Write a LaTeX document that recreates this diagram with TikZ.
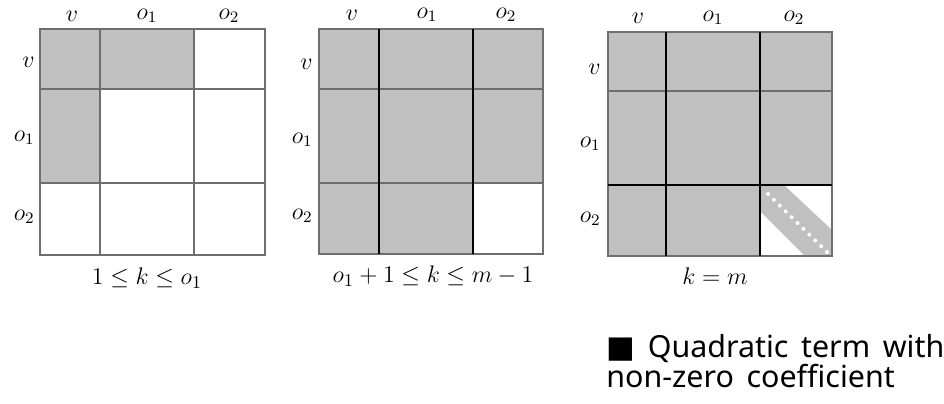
\documentclass[tikz,border=0pt]{standalone}
\usepackage{fontspec}
\newfontfamily\legendfont[WordSpace=1.6]{Noto Sans}
\newfontfamily\symbfont{DejaVu Sans}
\definecolor{cellgray}{HTML}{C0C0C0}
\definecolor{gridgray}{HTML}{6E6E6E}

\begin{document}
\begin{tikzpicture}[
    x=0.5pt, y=-0.5pt,
    cell/.style={fill=cellgray},
    grid/.style={draw=gridgray, line width=0.6pt},
    bold/.style={draw=black, line width=1.1pt},
    lbl/.style={font=\fontsize{12}{14}\selectfont, inner sep=1pt},
    mcaption/.style={font=\fontsize{12.5}{15}\selectfont},
]
\useasboundingbox (0,0) rectangle (944,403);

% --- 1 <= k <= o1 (left) ---
\fill[cell] (40,29) rectangle (194,89);
\fill[cell] (40,89) rectangle (100,183);
\draw[grid] (40,29) rectangle (265,255);
\draw[grid] (100,29) -- (100,255);
\draw[grid] (194,29) -- (194,255);
\draw[grid] (40,89) -- (265,89);
\draw[grid] (40,183) -- (265,183);

\node[lbl] (ca1) at (72,16) {$v$};
\node[lbl] (cb1) at (147,16) {$o_1$};
\node[lbl] (cc1) at (229,16) {$o_2$};
\node[lbl, anchor=east] (ra1) at (37,62) {$v$};
\node[lbl, anchor=east] (rb1) at (37,138) {$o_1$};
\node[lbl, anchor=east] (rc1) at (37,217) {$o_2$};
\node[mcaption] (cap1) at (147,278) {$1 \leq k \leq o_1$};

% --- o1+1 <= k <= m-1 (middle) ---
\fill[cell] (319,29) rectangle (543,183);
\fill[cell] (319,183) rectangle (473,254);
\draw[grid] (319,29) rectangle (543,254);
\draw[grid] (319,89) -- (543,89);
\draw[grid] (319,183) -- (543,183);
\draw[bold] (379,29) -- (379,254);
\draw[bold] (473,29) -- (473,254);

\node[lbl] (ca2) at (352,15) {$v$};
\node[lbl] (cb2) at (427,15) {$o_1$};
\node[lbl] (cc2) at (506,15) {$o_2$};
\node[lbl, anchor=east] (ra2) at (315,64) {$v$};
\node[lbl, anchor=east] (rb2) at (315,140) {$o_1$};
\node[lbl, anchor=east] (rc2) at (315,216) {$o_2$};
\node[mcaption] (cap2) at (433,276) {$o_1 + 1 \leq k \leq m - 1$};

% --- k = m (right) ---
\fill[cell] (608,32) rectangle (832,185);
\fill[cell] (608,185) rectangle (760,256);

% diagonal band in the o2 block
\fill[cell] (761,186) -- (785,186) -- (832,230) -- (832,256)
    -- (805,256) -- (761,212) -- cycle;
\foreach \i in {0,...,10}
    \fill[white] ({768+5.9*\i},{194+5.8*\i}) circle (2);

\draw[grid] (608,32) rectangle (832,256);
\draw[grid] (608,91) -- (832,91);
\draw[bold] (608,185) -- (832,185);
\draw[bold] (666,32) -- (666,256);
\draw[bold] (760,32) -- (760,256);

\node[lbl] (ca3) at (638,18) {$v$};
\node[lbl] (cb3) at (713,18) {$o_1$};
\node[lbl] (cc3) at (794,18) {$o_2$};
\node[lbl, anchor=east] (ra3) at (603,69) {$v$};
\node[lbl, anchor=east] (rb3) at (603,144) {$o_1$};
\node[lbl, anchor=east] (rc3) at (603,219) {$o_2$};
\node[mcaption] (cap3) at (715,276) {$k = m$};

% --- legend ---
\node[font=\legendfont\fontsize{15.2}{13.5}\selectfont, align=left,
      anchor=north west, inner sep=0pt]
    (legend) at (606,334)
    {{\symbfont ■} Quadratic term with\\non-zero coefficient};

\end{tikzpicture}
\end{document}
